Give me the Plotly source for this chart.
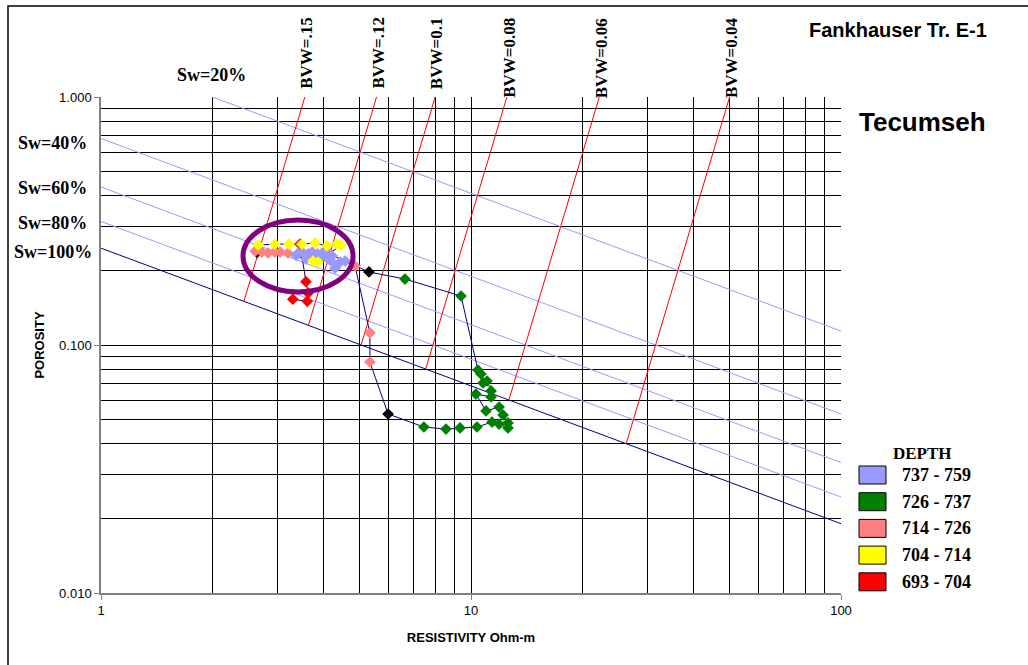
import numpy as np
import plotly.graph_objects as go

# Archie parameters behind the Sw / BVW overlay
A_RW = 0.08
M_EXP = 1.8
N_EXP = 2.0

sw_values = [0.2, 0.4, 0.6, 0.8, 1.0]
sw_labels = ["Sw=20%", "Sw=40%", "Sw=60%", "Sw=80%", "Sw=100%"]
bvw_values = [0.15, 0.12, 0.10, 0.08, 0.06, 0.04]
bvw_labels = ["BVW=.15", "BVW=.12", "BVW=0.1", "BVW=0.08", "BVW=0.06", "BVW=0.04"]

# crossplot data (resistivity ohm-m, porosity), in depth order
red_res = [3.30, 3.61, 3.63, 3.58, 3.45]
red_por = [0.153, 0.150, 0.162, 0.180, 0.255]

yellow_res = [3.74, 3.86, 4.45, 4.34, 4.08, 3.79, 3.49, 3.22, 2.95, 2.66]
yellow_por = [0.218, 0.216, 0.253, 0.255, 0.251, 0.258, 0.255, 0.255, 0.255, 0.253]

salmon_res = [2.61, 2.72, 2.83, 2.95, 3.05, 3.20, 3.72, 4.16, 4.86, 5.33, 5.33]
salmon_por = [0.239, 0.237, 0.235, 0.237, 0.237, 0.235, 0.237, 0.233, 0.208, 0.112, 0.0854]

green_res = [7.46, 8.56, 9.34, 10.38, 11.40, 11.91, 12.59, 12.59, 12.21, 11.91,
             10.98, 10.31, 11.33, 11.33, 11.05, 10.78, 10.64, 10.44, 9.40, 6.63]
green_por = [0.0467, 0.0458, 0.0463, 0.0467, 0.0489, 0.0480, 0.0463, 0.0485, 0.0522, 0.0562,
             0.0542, 0.0634, 0.0617, 0.0653, 0.0716, 0.0703, 0.0764, 0.0793, 0.1576, 0.1845]

lav_res = [4.57, 4.43, 4.29, 4.24, 4.21, 4.08, 3.96, 3.84, 3.72, 3.63, 3.52, 3.41,
           3.37, 3.58, 3.91, 4.11]
lav_por = [0.218, 0.216, 0.204, 0.214, 0.229, 0.233, 0.235, 0.233, 0.235, 0.233, 0.235, 0.235,
           0.229, 0.222, 0.224, 0.222]

black_res = [2.64, 5.97, 5.30]
black_por = [0.236, 0.0527, 0.197]

legend_names = ["737 - 759", "726 - 737", "714 - 726", "704 - 714", "693 - 704"]
legend_colors = ["#9999FF", "#008000", "#FF8080", "#FFFF00", "#FF0000"]

W, H = 1028, 665
L, R, T, B = 101, 841, 97, 593


def px(x):
    return (x - L) / (R - L)


def py(y):
    return (B - y) / (B - T)


fig = go.Figure()

# Sw lines
r_ends = np.array([1.0, 100.0])
for sw in sw_values:
    phi = (A_RW / (r_ends * sw ** N_EXP)) ** (1 / M_EXP)
    fig.add_trace(go.Scatter(x=r_ends, y=phi, mode="lines", hoverinfo="skip",
                             line=dict(color="#000080" if sw == 1.0 else "#9999FF", width=1),
                             showlegend=False))

# BVW lines
for bvw in bvw_values:
    phi = np.array([bvw, 1.0])
    res = A_RW * phi ** (N_EXP - M_EXP) / bvw ** N_EXP
    fig.add_trace(go.Scatter(x=res, y=phi, mode="lines", hoverinfo="skip",
                             line=dict(color="#FF0000", width=1), showlegend=False))

# connecting path in depth order
path_res = red_res + yellow_res + black_res[:1] + salmon_res + black_res[1:2] + green_res + black_res[2:] + lav_res
path_por = red_por + yellow_por + black_por[:1] + salmon_por + black_por[1:2] + green_por + black_por[2:] + lav_por
fig.add_trace(go.Scatter(x=path_res, y=path_por, mode="lines",
                         line=dict(color="#000080", width=1), showlegend=False))

series = [
    (black_res, black_por, "#000000", "other"),
    (green_res, green_por, legend_colors[1], legend_names[1]),
    (salmon_res, salmon_por, legend_colors[2], legend_names[2]),
    (red_res, red_por, legend_colors[4], legend_names[4]),
    (lav_res, lav_por, legend_colors[0], legend_names[0]),
    (yellow_res, yellow_por, legend_colors[3], legend_names[3]),
]
for xs, ys, col, name in series:
    fig.add_trace(go.Scatter(x=xs, y=ys, mode="markers", name=name, showlegend=False,
                             marker=dict(symbol="diamond", size=9, color=col)))

# ellipse around the clustered points
fig.add_shape(type="circle", xref="x", yref="y", x0=2.42, x1=4.80, y0=0.1636, y1=0.319,
              line=dict(color="#800080", width=5))

annotations = []
serif = "Liberation Serif"
sans = "Liberation Sans"

# BVW labels
for bvw, lab in zip(bvw_values, bvw_labels):
    top = A_RW / bvw ** N_EXP
    annotations.append(dict(x=np.log10(top), y=py(91 if bvw >= 0.1 else 100), xref="x", yref="paper",
                            text=f"<b>{lab}</b>", textangle=-90, showarrow=False,
                            xanchor="center", yanchor="bottom", xshift=2,
                            font=dict(family=serif, size=17, color="black")))

# Sw labels
sw_pos = [(211, 75), (52.5, 143), (52.5, 188), (52.5, 223), (52.5, 252)]
for lab, (lx, ly) in zip(sw_labels, sw_pos):
    annotations.append(dict(x=px(lx), y=py(ly), xref="paper", yref="paper", text=f"<b>{lab}</b>",
                            showarrow=False, xanchor="center", yanchor="middle",
                            font=dict(family=serif, size=18, color="black")))

annotations.append(dict(x=px(898), y=py(30), xref="paper", yref="paper",
                        text="<b>Fankhauser Tr. E-1</b>", showarrow=False,
                        xanchor="center", yanchor="middle",
                        font=dict(family=sans, size=20, color="black")))
annotations.append(dict(x=px(922), y=py(122), xref="paper", yref="paper",
                        text="<b>Tecumseh</b>", showarrow=False,
                        xanchor="center", yanchor="middle",
                        font=dict(family=sans, size=26, color="black")))

# legend drawn by hand
annotations.append(dict(x=px(922), y=py(453), xref="paper", yref="paper", text="<b>DEPTH</b>",
                        showarrow=False, xanchor="center", yanchor="middle",
                        font=dict(family=serif, size=17, color="black")))
shapes = []
for i, (name, col) in enumerate(zip(legend_names, legend_colors)):
    cy = 475 + i * 26.7
    shapes.append(dict(type="rect", xref="paper", yref="paper", x0=px(859), x1=px(886),
                       y0=py(cy + 9), y1=py(cy - 9), fillcolor=col,
                       line=dict(color="#000000", width=1)))
    annotations.append(dict(x=px(900), y=py(cy), xref="paper", yref="paper", text=f"<b>{name}</b>",
                            showarrow=False, xanchor="left", yanchor="middle",
                            font=dict(family=serif, size=18, color="black")))

# outer frame
shapes.append(dict(type="rect", xref="paper", yref="paper", x0=px(8), x1=px(1040),
                   y0=py(672), y1=py(6), line=dict(color="black", width=1.5)))

for s in shapes:
    fig.add_shape(**s)

minor_x = [v * d for d in (1, 10) for v in range(2, 10)]
minor_y = [v * d for d in (0.01, 0.1) for v in range(2, 10)]

fig.update_layout(
    width=W, height=H,
    margin=dict(l=L, r=W - R, t=T, b=H - B),
    plot_bgcolor="white", paper_bgcolor="white",
    annotations=annotations,
    showlegend=False,
    xaxis=dict(type="log", range=[0, 2],
               tickvals=[1, 10, 100], ticktext=["1", "10", "100"],
               ticks="outside", ticklen=5, tickcolor="#808080",
               showgrid=True, gridcolor="black", gridwidth=1,
               minor=dict(tickvals=minor_x, showgrid=True, gridcolor="black", gridwidth=1, ticks=""),
               showline=True, linecolor="#808080", linewidth=1.5, mirror=False,
               zeroline=False,
               tickfont=dict(family=sans, size=13, color="black"),
               title=dict(text="<b>RESISTIVITY Ohm-m</b>", standoff=16,
                          font=dict(family=sans, size=13, color="black"))),
    yaxis=dict(type="log", range=[-2, 0],
               tickvals=[0.01, 0.1, 1], ticktext=["0.010", "0.100", "1.000"],
               ticks="outside", ticklen=5, tickcolor="#808080",
               showgrid=True, gridcolor="black", gridwidth=1,
               minor=dict(tickvals=minor_y, showgrid=True, gridcolor="black", gridwidth=1, ticks=""),
               showline=True, linecolor="#808080", linewidth=1.5, mirror=False,
               zeroline=False,
               tickfont=dict(family=sans, size=13, color="black"),
               title=dict(text="<b>POROSITY</b>", standoff=12,
                          font=dict(family=sans, size=13, color="black"))),
)

fig.write_html("out.html", config={"displayModeBar": False},
               post_script="document.body.style.margin='0px';")
